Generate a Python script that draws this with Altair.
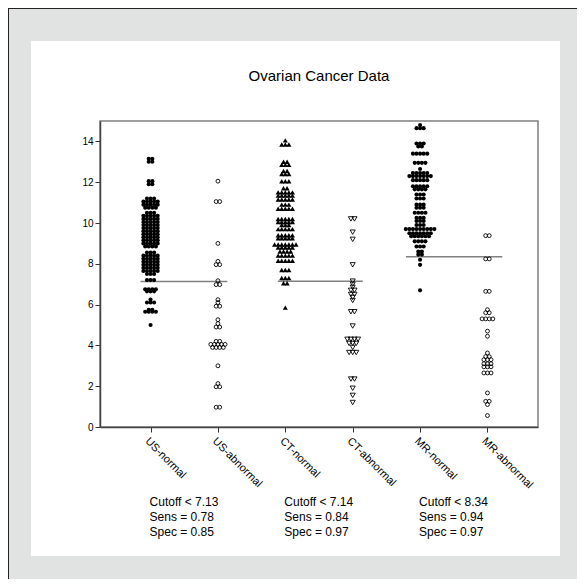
import altair as alt
import pandas as pd

# ---------------- data ----------------
groups = ["US-normal", "US-abnormal", "CT-normal", "CT-abnormal", "MR-normal", "MR-abnormal"]
chart_title = "Ovarian Cancer Data"

us_normal_values = [13.15, 13.0, 12.05, 11.9, 11.2, 11.05, 10.9, 10.75, 10.5, 10.35, 10.2, 10.05,
                    9.9, 9.75, 9.6, 9.45, 9.3, 9.15, 9.0, 8.85, 8.55, 8.4, 8.25, 8.1, 7.95, 7.8,
                    7.65, 7.5, 7.2, 6.75, 6.65, 6.25, 6.1, 5.75, 5.65, 5.0]
us_normal_counts = [2, 2, 2, 2, 3, 5, 5, 4, 3, 5, 5, 5, 5, 5, 5, 5, 5, 5, 5, 4, 3, 5, 5, 5, 5, 5,
                    5, 3, 3, 4, 3, 1, 3, 2, 4, 1]

us_abnormal_values = [12.05, 11.05, 9.0, 8.12, 7.96, 7.17, 6.98, 6.24, 6.1, 5.92, 5.26, 5.07, 4.9,
                      4.2, 4.05, 3.9, 3.0, 2.13, 1.97, 0.97]
us_abnormal_counts = [1, 2, 1, 1, 2, 1, 2, 1, 1, 2, 1, 1, 2, 2, 5, 4, 1, 1, 2, 2]

ct_normal_values = [14.05, 13.85, 13.0, 12.85, 12.55, 12.4, 12.05, 11.7, 11.5, 11.35, 11.15, 10.9,
                    10.7, 10.2, 10.05, 9.9, 9.7, 9.4, 9.25, 8.95, 8.8, 8.6, 8.4, 8.15, 7.7, 7.3,
                    7.05, 5.85]
ct_normal_counts = [1, 3, 2, 3, 2, 3, 3, 2, 5, 5, 5, 3, 5, 5, 5, 3, 5, 5, 5, 7, 5, 4, 5, 5, 3, 3, 2, 1]

ct_abnormal_values = [10.2, 9.55, 9.2, 7.95, 7.15, 7.0, 6.85, 6.7, 6.5, 6.35, 6.2, 5.65, 4.95, 4.3,
                      4.1, 3.9, 3.65, 2.35, 1.9, 1.55, 1.2]
ct_abnormal_counts = [2, 1, 1, 1, 1, 1, 1, 2, 2, 1, 1, 2, 1, 4, 3, 1, 3, 2, 1, 1, 1]

mr_normal_values = [14.8, 14.65, 13.9, 13.75, 13.4, 12.95, 12.65, 12.45, 12.3, 12.1, 11.8, 11.65,
                    11.4, 11.2, 10.9, 10.75, 10.5, 10.25, 10.1, 9.9, 9.7, 9.5, 9.35, 9.1, 8.85,
                    8.6, 8.45, 8.2, 7.95, 6.7]
mr_normal_counts = [1, 3, 3, 2, 5, 4, 1, 5, 7, 5, 5, 4, 3, 3, 3, 3, 4, 3, 3, 3, 9, 7, 6, 4, 3, 2,
                    2, 1, 1, 1]

mr_abnormal_values = [9.38, 8.24, 6.65, 5.75, 5.6, 5.3, 4.7, 4.45, 3.63, 3.45, 3.3, 3.1, 2.95,
                      2.65, 1.67, 1.26, 1.1, 0.56]
mr_abnormal_counts = [2, 2, 2, 1, 2, 4, 1, 1, 1, 2, 3, 3, 3, 3, 1, 2, 1, 1]

cutoffs = [7.13, 7.14, 8.34]
cutoff_x_start = [0.85, 2.89, 4.79]
cutoff_x_end = [2.14, 4.15, 6.22]
sens = [0.78, 0.84, 0.94]
spec = [0.85, 0.97, 0.97]
label_positions = [1, 3, 5]

# ---------------- build tables ----------------
group_values = [us_normal_values, us_abnormal_values, ct_normal_values,
                ct_abnormal_values, mr_normal_values, mr_abnormal_values]
group_counts = [us_normal_counts, us_abnormal_counts, ct_normal_counts,
                ct_abnormal_counts, mr_normal_counts, mr_abnormal_counts]
shapes = ["circle", "circle", "triangle-up", "triangle-down", "circle", "circle"]
sizes = [17, 15, 26, 26, 17, 15]
filled = [True, False, True, False, True, False]
step = 0.053

rows = []
for gi, (vals, cnts) in enumerate(zip(group_values, group_counts)):
    pos = gi + 1
    for v, n in zip(vals, cnts):
        for k in range(n):
            rows.append({"group": groups[gi], "value": v,
                         "xpos": pos + (k - (n - 1) / 2) * step,
                         "shape": shapes[gi], "size": sizes[gi], "filled": filled[gi]})
pts = pd.DataFrame(rows)

cut_df = pd.DataFrame({"x1": cutoff_x_start, "x2": cutoff_x_end, "cut": cutoffs})
txt_df = pd.DataFrame({
    "lx": label_positions,
    "label": [f"Cutoff < {c:.2f}\nSens = {s:.2f}\nSpec = {p:.2f}"
              for c, s, p in zip(cutoffs, sens, spec)],
})
title_df = pd.DataFrame({"t": [chart_title]})

FONT = "Liberation Sans"
W, H = 438, 306
PAD_L, PAD_T, PAD_R, PAD_B = 92, 113, 39, 152

xscale = alt.Scale(domain=[0.25, 6.75], nice=False, zero=False)
yscale = alt.Scale(domain=[0, 15], nice=False, zero=False)

label_expr = "[" + ",".join(["''"] + [f"'{g}'" for g in groups]) + "][datum.value]"

xaxis = alt.Axis(values=[1, 2, 3, 4, 5, 6], labelExpr=label_expr, title=None,
                 labelAngle=45, labelAlign="left", labelBaseline="top", labelPadding=3,
                 labelFontSize=11, labelFont=FONT, labelColor="black", labelOverlap=False,
                 labelFlush=False, tickSize=5, tickColor="#333333", domainColor="#444444",
                 domainWidth=1.5, grid=False, zindex=1)
yaxis = alt.Axis(values=[0, 2, 4, 6, 8, 10, 12, 14], title="Test Value", titleFont=FONT,
                 titleFontSize=13, titleFontWeight="normal", titleColor="black",
                 titleX=-43, titleY=H / 2, titleAngle=-90, titleAlign="center",
                 titleBaseline="middle", labelFontSize=10, labelFont=FONT, labelColor="black",
                 labelPadding=2, tickSize=5, tickColor="#333333", domainColor="#444444",
                 domainWidth=1.5, grid=False, zindex=1)

one = pd.DataFrame({"a": [0]})

panel = alt.Chart(one).mark_rect(color="white").encode(
    x=alt.value(-69), x2=alt.value(460), y=alt.value(-80), y2=alt.value(435))

frame = alt.Chart(one).mark_rect(fillOpacity=0, stroke="#808080", strokeWidth=1.5).encode(
    x=alt.value(0), x2=alt.value(W), y=alt.value(0), y2=alt.value(H))

border_top = alt.Chart(one).mark_rule(color="#222222", strokeWidth=1).encode(
    x=alt.value(-PAD_L), x2=alt.value(W + PAD_R), y=alt.value(-PAD_T + 0.5))
border_left = alt.Chart(one).mark_rule(color="#222222", strokeWidth=1).encode(
    x=alt.value(-PAD_L + 0.5), y=alt.value(-PAD_T), y2=alt.value(H + PAD_B))

title_mark = alt.Chart(title_df).mark_text(
    align="center", baseline="middle", fontSize=15, font=FONT, color="black").encode(
    x=alt.value(W / 2), y=alt.value(-45), text="t:N")

cut_rules = alt.Chart(cut_df).mark_rule(color="#808080", strokeWidth=1.5).encode(
    x=alt.X("x1:Q", scale=xscale, axis=xaxis),
    x2="x2:Q",
    y=alt.Y("cut:Q", scale=yscale, axis=yaxis),
)

filled_pts = alt.Chart(pts).transform_filter("datum.filled").mark_point(
    filled=True, color="black", opacity=1).encode(
    x=alt.X("xpos:Q", scale=xscale, title=None),
    y=alt.Y("value:Q", scale=yscale, title=None),
    shape=alt.Shape("shape:N", scale=None),
    size=alt.Size("size:Q", scale=None),
)

open_pts = alt.Chart(pts).transform_filter("!datum.filled").mark_point(
    filled=False, color="black", strokeWidth=0.9, opacity=1).encode(
    x=alt.X("xpos:Q", scale=xscale, title=None),
    y=alt.Y("value:Q", scale=yscale, title=None),
    shape=alt.Shape("shape:N", scale=None),
    size=alt.Size("size:Q", scale=None),
)

stats = alt.Chart(txt_df).mark_text(
    align="left", baseline="top", lineBreak="\n", lineHeight=15, fontSize=12,
    font=FONT, color="black", dx=-1).encode(
    x=alt.X("lx:Q", scale=xscale, title=None),
    y=alt.value(376),
    text="label:N",
)

chart = alt.layer(panel, frame, border_top, border_left, title_mark, cut_rules, filled_pts,
                  open_pts, stats).properties(
    width=W, height=H,
    autosize=alt.AutoSizeParams(type="none"),
    padding={"left": PAD_L, "top": PAD_T, "right": PAD_R, "bottom": PAD_B},
    background="#e1e3e2",
).configure_view(strokeWidth=0)

chart.save("out.html", embed_options={"renderer": "svg", "actions": False})
